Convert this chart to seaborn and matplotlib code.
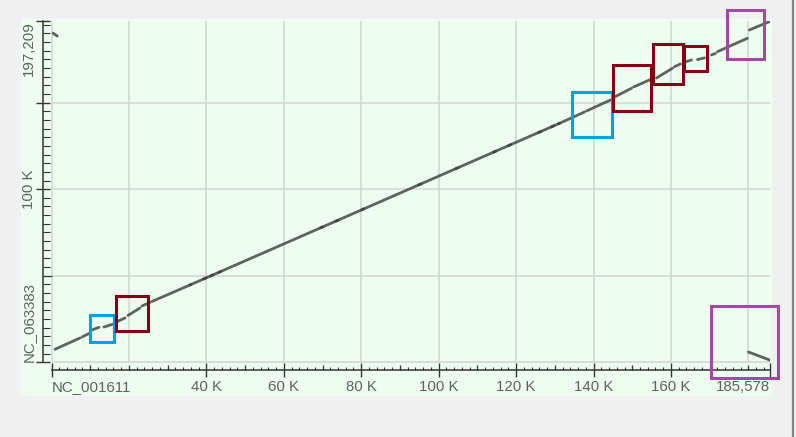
import numpy as np
import pandas as pd
import matplotlib.pyplot as plt
from matplotlib.patches import Rectangle
from matplotlib.lines import Line2D
from matplotlib.transforms import ScaledTranslation
from matplotlib.ticker import MultipleLocator
import seaborn as sns

# genome lengths (bp)
x_name, x_len = 'NC_001611', 185578
y_name, y_len = 'NC_063383', 197209

# alignment blocks (bp): x = NC_001611, y = NC_063383
aln_x0 = [903, 7871, 10451, 13548, 16129, 19742, 23354, 25935,
          35741, 39312, 41119, 43183, 69505, 73376, 80085, 94795, 104343,
          114149, 118020, 125762, 129117,
          131000, 138191, 145416, 150319, 156254, 160899, 163737, 166834,
          170447, 171995, 180253,
          400, 180000]
aln_x1 = [7355, 9935, 12258, 15613, 18967, 22838, 25419, 36000,
          39912, 41719, 43783, 70105, 73976, 80685, 95395, 104943, 114749,
          118620, 126362, 129717, 131223,
          137675, 144384, 149803, 154448, 160383, 162447, 165285, 168640,
          171479, 179737, 185578,
          1500, 185578]
aln_y0 = [7457, 14566, 18613, 20347, 22659, 26994, 32485, 35086,
          44624, 48119, 49887, 51908, 77673, 81462, 88029, 102428, 111774,
          121373, 125162, 132740, 136023,
          137870, 145201, 153294, 159074, 164276, 170808, 173600, 174900,
          177571, 179478, 192022,
          190200, 5900]
aln_y1 = [13988, 16878, 20173, 21792, 25549, 31329, 34508, 44870,
          48707, 50475, 52496, 78261, 82050, 88617, 103016, 112362, 121961,
          125750, 133328, 136611, 138085,
          144623, 151559, 158323, 163120, 169883, 172368, 174700, 175900,
          178438, 187224, 197000,
          188500, 1200]

# highlighted regions (bp), group 0 = blue, 1 = dark red, 2 = purple
box_x0 = [9935, 16645, 134320, 144900, 155480, 163479, 174600, 170447]
box_x1 = [16129, 24903, 144642, 154964, 163222, 169414, 184148, 187737]
box_y0 = [11676, 18034, 130172, 145201, 160808, 168322, 175259, -9133]
box_y1 = [27283, 38266, 156184, 171790, 183929, 182769, 203582, 32485]
box_group = [0, 1, 0, 1, 1, 1, 2, 2]
box_colors = ['#00a2e8', '#880015', '#a349a4']

x_ticks = [0, 40000, 60000, 80000, 100000, 120000, 140000, 160000, x_len]
x_labels = [x_name, '40 K', '60 K', '80 K', '100 K', '120 K', '140 K', '160 K', '185,578']
y_ticks = [0, 100000, 150000, y_len]
y_labels = [y_name, '100 K', '', '197,209']

sns.set_style('white')
plt.rcParams['font.family'] = ['Liberation Sans', 'DejaVu Sans']

W, H = 796, 437
fig = plt.figure(figsize=(W / 100, H / 100), dpi=100, facecolor='#f0f0f0')

# mint panel
fig.patches.append(Rectangle((21 / W, 1 - 395 / H), 750 / W, 376 / H,
                             transform=fig.transFigure, color='#edfdf0', zorder=-5))
fig.add_artist(Line2D([792.5 / W] * 2, [0, 1], transform=fig.transFigure,
                      color='#858585', lw=1.6))

left, right, bottom, top = 51.5, 770, 362.2, 21
ax = fig.add_axes([left / W, 1 - bottom / H, (right - left) / W, (bottom - top) / H])
ax.set_zorder(2)
ax.set_facecolor('none')
ax.set_xlim(0, x_len)
ax.set_ylim(0, y_len)

grid_c = '#d4d4d4'
ax.vlines(np.arange(0, x_len, 20000), 0, y_len, color=grid_c, lw=1.1, zorder=0, clip_on=False)
ax.hlines(np.arange(0, y_len, 50000), 0, x_len, color=grid_c, lw=1.1, zorder=0, clip_on=False)

# alignments
rows = []
for i in range(len(aln_x0)):
    rows.append((aln_x0[i], aln_y0[i], i))
    rows.append((aln_x1[i], aln_y1[i], i))
df = pd.DataFrame(rows, columns=['x', 'y', 'seg'])
sns.lineplot(data=df, x='x', y='y', units='seg', estimator=None, sort=False,
             color='#3c3c3c', lw=2.0, alpha=0.8, legend=False, ax=ax)

for i in range(len(box_x0)):
    ax.add_patch(Rectangle((box_x0[i], box_y0[i]), box_x1[i] - box_x0[i], box_y1[i] - box_y0[i],
                           fill=False, ec=box_colors[box_group[i]], lw=2.2, clip_on=False, zorder=5))

ax.set_xlabel('')
ax.set_ylabel('')

# axes: detached spines
off_x, off_y = 8.0, 9.0   # px
for s in ['top', 'right']:
    ax.spines[s].set_visible(False)
ax.spines['bottom'].set_position(('outward', off_x * 0.72))
ax.spines['left'].set_position(('outward', off_y * 0.72))
for s in ['bottom', 'left']:
    ax.spines[s].set_color('#333333')
    ax.spines[s].set_linewidth(1.1)

lab_c = '#5b665b'
ax.set_xticks(x_ticks, x_labels)
ax.xaxis.set_minor_locator(MultipleLocator(2000))
ax.tick_params(axis='x', which='major', direction='inout', length=9.5, width=1.0, bottom=True,
               color='#333333', pad=2.0, labelsize=10.8, labelcolor=lab_c)
ax.tick_params(axis='x', which='minor', direction='in', length=2.5, width=0.8, bottom=True,
               color='#333333')
xl = ax.get_xticklabels()
xl[0].set_ha('left')
xl[-1].set_ha('right')

ax.set_yticks(y_ticks, y_labels, rotation=90, va='center')
ax.yaxis.set_minor_locator(MultipleLocator(5000))
ax.tick_params(axis='y', which='major', direction='inout', length=10, width=1.0, left=True,
               color='#333333', pad=0, labelsize=10.8, labelcolor=lab_c)
ax.tick_params(axis='y', which='minor', direction='in', length=5, width=0.8, left=True,
               color='#333333')
yl = ax.get_yticklabels()
yl[0].set_va('bottom')
yl[-1].set_va('top')

# medium ticks at 10K (x) and 50K (y)
tx = ax.get_xaxis_transform() + ScaledTranslation(0, -off_x / 100, fig.dpi_scale_trans)
mid_x = [v for v in range(10000, x_len, 10000) if v not in x_ticks]
ax.vlines(mid_x, 0, 5.5 / (bottom - top), transform=tx, color='#333333', lw=0.9, clip_on=False)
ty = ax.get_yaxis_transform() + ScaledTranslation(-off_y / 100, 0, fig.dpi_scale_trans)
mid_y = [v for v in range(50000, y_len, 50000) if v not in y_ticks]
ax.hlines(mid_y, 0, 9 / (right - left), transform=ty, color='#333333', lw=0.9, clip_on=False)

fig.savefig('out.png', dpi=100, facecolor=fig.get_facecolor())
